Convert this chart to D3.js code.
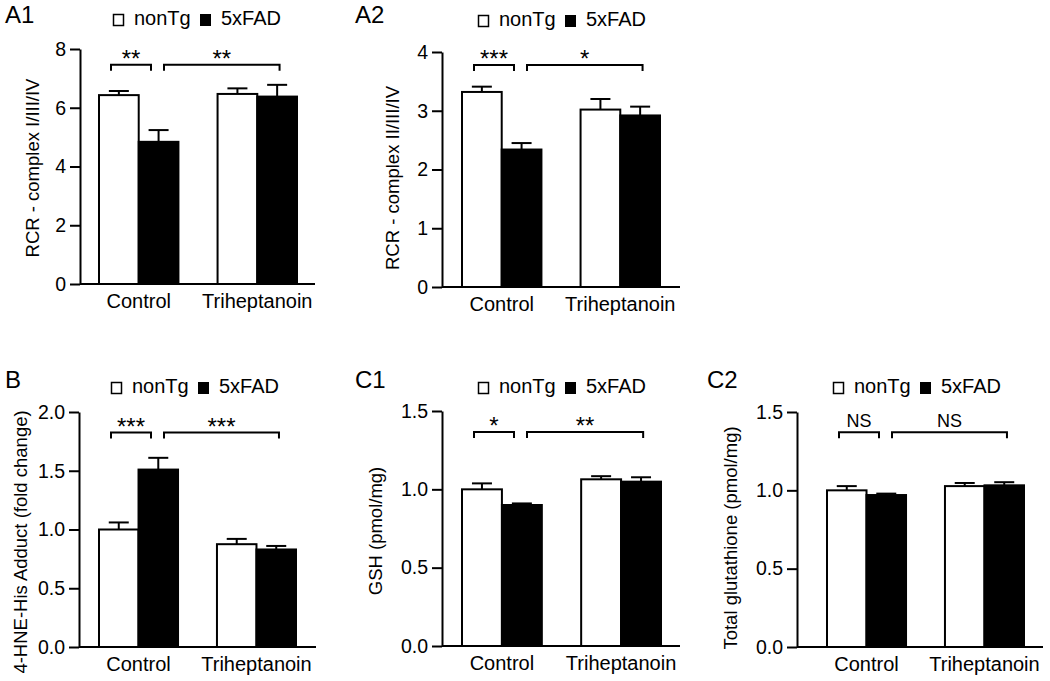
<!DOCTYPE html>
<html>
<head>
<meta charset="utf-8">
<script src="https://cdn.jsdelivr.net/npm/d3@7"></script>
<style>
  html, body { margin: 0; padding: 0; background: #fff; }
  svg { display: block; font-family: "Liberation Sans", Arial, sans-serif; }
</style>
</head>
<body>
<svg id="chart" width="1050" height="681"></svg>
<script>
// ---------- data ----------
const categories = ["Control", "Triheptanoin"];
const seriesNames = ["nonTg", "5xFAD"];
const panelIds = ["A1", "A2", "B", "C1", "C2"];
const yTitles = [
  "RCR - complex I/III/IV",
  "RCR - complex II/III/IV",
  "4-HNE-His Adduct (fold change)",
  "GSH (pmol/mg)",
  "Total glutathione (pmol/mg)"
];
const yMax = [8, 4, 2.0, 1.5, 1.5];
const a1Ticks = [0, 2, 4, 6, 8];
const a2Ticks = [0, 1, 2, 3, 4];
const bTicks = [0, 0.5, 1.0, 1.5, 2.0];
const cTicks = [0, 0.5, 1.0, 1.5];
// means [Control, Triheptanoin]
const a1NonTg = [6.43, 6.47];
const a1Fad = [4.84, 6.38];
const a1NonTgSem = [0.14, 0.19];
const a1FadSem = [0.40, 0.40];
const a2NonTg = [3.32, 3.02];
const a2Fad = [2.34, 2.92];
const a2NonTgSem = [0.09, 0.18];
const a2FadSem = [0.11, 0.15];
const bNonTg = [1.00, 0.875];
const bFad = [1.51, 0.83];
const bNonTgSem = [0.06, 0.045];
const bFadSem = [0.10, 0.03];
const c1NonTg = [1.00, 1.064];
const c1Fad = [0.90, 1.049];
const c1NonTgSem = [0.038, 0.02];
const c1FadSem = [0.01, 0.028];
const c2NonTg = [1.00, 1.027];
const c2Fad = [0.97, 1.032];
const c2NonTgSem = [0.027, 0.02];
const c2FadSem = [0.009, 0.02];
// significance labels [Control nonTg vs 5xFAD, Control 5xFAD vs Triheptanoin 5xFAD]
const a1Sig = ["**", "**"];
const a2Sig = ["***", "*"];
const bSig = ["***", "***"];
const c1Sig = ["*", "**"];
const c2Sig = ["NS", "NS"];
const sigLevel = [7.46, 3.78, 1.825, 1.366, 1.37];

// ---------- layout ----------
const layouts = [
  {axisX: 80,  y0: 284, yTop: 49,  bandStart: 99,  bandEnd: 297,  axisEnd: 315,  legendX: 113, legendY: 14,  labelX: 5,   labelY: 23,  titleX: 39,  titleY: 168, fmt: d3.format("d")},
  {axisX: 442, y0: 287, yTop: 52,  bandStart: 462, bandEnd: 660,  axisEnd: 680,  legendX: 478, legendY: 15,  labelX: 355, labelY: 23,  titleX: 399, titleY: 178, fmt: d3.format("d")},
  {axisX: 79,  y0: 647, yTop: 412, bandStart: 99,  bandEnd: 296,  axisEnd: 316,  legendX: 111, legendY: 382, labelX: 5,   labelY: 388, titleX: 27,  titleY: 542, fmt: d3.format(".1f")},
  {axisX: 442, y0: 646, yTop: 411, bandStart: 462, bandEnd: 661,  axisEnd: 680,  legendX: 478, legendY: 382, labelX: 355, labelY: 388, titleX: 382, titleY: 531, fmt: d3.format(".1f")},
  {axisX: 797, y0: 647, yTop: 412, bandStart: 827, bandEnd: 1024, axisEnd: 1043, legendX: 833, legendY: 382, labelX: 707, labelY: 388, titleX: 737, titleY: 538, fmt: d3.format(".1f")}
];

const panelData = [
  {ticks: a1Ticks, nonTg: a1NonTg, fad: a1Fad, nonTgSem: a1NonTgSem, fadSem: a1FadSem, sig: a1Sig},
  {ticks: a2Ticks, nonTg: a2NonTg, fad: a2Fad, nonTgSem: a2NonTgSem, fadSem: a2FadSem, sig: a2Sig},
  {ticks: bTicks,  nonTg: bNonTg,  fad: bFad,  nonTgSem: bNonTgSem,  fadSem: bFadSem,  sig: bSig},
  {ticks: cTicks,  nonTg: c1NonTg, fad: c1Fad, nonTgSem: c1NonTgSem, fadSem: c1FadSem, sig: c1Sig},
  {ticks: cTicks,  nonTg: c2NonTg, fad: c2Fad, nonTgSem: c2NonTgSem, fadSem: c2FadSem, sig: c2Sig}
];

const svg = d3.select("#chart");
const fills = {"nonTg": "#ffffff", "5xFAD": "#000000"};

panelIds.forEach((id, i) => {
  const L = layouts[i];
  const D = panelData[i];
  const g = svg.append("g");

  const y = d3.scaleLinear().domain([0, yMax[i]]).range([L.y0, L.yTop]);
  const x = d3.scaleBand().domain(categories).range([L.bandStart, L.bandEnd]).paddingInner(0.33).paddingOuter(0);
  const xs = d3.scaleBand().domain(seriesNames).range([0, x.bandwidth()]).padding(0);

  // y axis
  const ya = g.append("g")
    .attr("transform", `translate(${L.axisX},0)`)
    .call(d3.axisLeft(y).tickValues(D.ticks).tickFormat(L.fmt).tickSize(10).tickSizeOuter(0).tickPadding(4));
  ya.select(".domain").attr("stroke", "#000").attr("stroke-width", 2);
  ya.selectAll(".tick line").attr("stroke", "#000").attr("stroke-width", 2);
  ya.selectAll(".tick text").attr("font-size", 19.5).attr("fill", "#000")
    .attr("font-family", "'Liberation Sans', Arial, sans-serif");

  // bars
  const rows = [];
  categories.forEach((c, ci) => {
    rows.push({cat: c, s: "nonTg", v: D.nonTg[ci], e: D.nonTgSem[ci]});
    rows.push({cat: c, s: "5xFAD", v: D.fad[ci], e: D.fadSem[ci]});
  });

  // error bars
  rows.forEach(r => {
    const cx = x(r.cat) + xs(r.s) + xs.bandwidth() / 2;
    g.append("line").attr("x1", cx).attr("x2", cx)
      .attr("y1", y(r.v)).attr("y2", y(r.v + r.e))
      .attr("stroke", "#000").attr("stroke-width", 2);
    g.append("line").attr("x1", cx - 10).attr("x2", cx + 10)
      .attr("y1", y(r.v + r.e)).attr("y2", y(r.v + r.e))
      .attr("stroke", "#000").attr("stroke-width", 2);
  });

  g.selectAll("rect.bar").data(rows).enter().append("rect")
    .attr("class", "bar")
    .attr("x", d => x(d.cat) + xs(d.s))
    .attr("y", d => y(d.v))
    .attr("width", xs.bandwidth())
    .attr("height", d => y(0) - y(d.v))
    .attr("fill", d => fills[d.s])
    .attr("stroke", "#000").attr("stroke-width", 2);

  // x axis line
  g.append("line").attr("x1", L.axisX).attr("x2", L.axisEnd)
    .attr("y1", L.y0).attr("y2", L.y0)
    .attr("stroke", "#000").attr("stroke-width", 2);

  // category labels
  categories.forEach(c => {
    g.append("text").attr("x", x(c) + x.bandwidth() / 2).attr("y", L.y0 + 24)
      .attr("text-anchor", "middle").attr("font-size", 20).attr("fill", "#000").text(c);
  });

  // y title
  g.append("text")
    .attr("transform", `translate(${L.titleX},${L.titleY}) rotate(-90)`)
    .attr("text-anchor", "middle").attr("font-size", 18.5).attr("fill", "#000")
    .text(yTitles[i]);

  // panel label
  g.append("text").attr("x", L.labelX).attr("y", L.labelY)
    .attr("font-size", 24).attr("fill", "#000").text(id);

  // legend
  g.append("rect").attr("x", L.legendX + 0.5).attr("y", L.legendY + 0.5).attr("width", 10).attr("height", 11)
    .attr("fill", "#fff").attr("stroke", "#000").attr("stroke-width", 1.5);
  g.append("text").attr("x", L.legendX + 21).attr("y", L.legendY + 11)
    .attr("font-size", 20).attr("fill", "#000").text(seriesNames[0]);
  g.append("rect").attr("x", L.legendX + 87).attr("y", L.legendY).attr("width", 11).attr("height", 12)
    .attr("fill", "#000");
  g.append("text").attr("x", L.legendX + 108).attr("y", L.legendY + 11)
    .attr("font-size", 20).attr("fill", "#000").text(seriesNames[1]);

  // significance brackets
  const by = y(sigLevel[i]);
  const g0 = x(categories[0]);
  const g1 = x(categories[1]);
  const brackets = [[g0 + 12, g0 + 52], [g0 + 65, g1 + 62]];
  brackets.forEach((b, bi) => {
    g.append("path")
      .attr("d", `M${b[0]},${by + 6}V${by}H${b[1]}V${by + 6}`)
      .attr("fill", "none").attr("stroke", "#000").attr("stroke-width", 2);
    const lbl = D.sig[bi];
    const isNS = lbl === "NS";
    g.append("text").attr("x", (b[0] + b[1]) / 2)
      .attr("y", isNS ? by - 5 : by + 2)
      .attr("text-anchor", "middle")
      .attr("font-size", isNS ? 18 : 24)
      .attr("fill", "#000").text(lbl);
  });
});
</script>
</body>
</html>
